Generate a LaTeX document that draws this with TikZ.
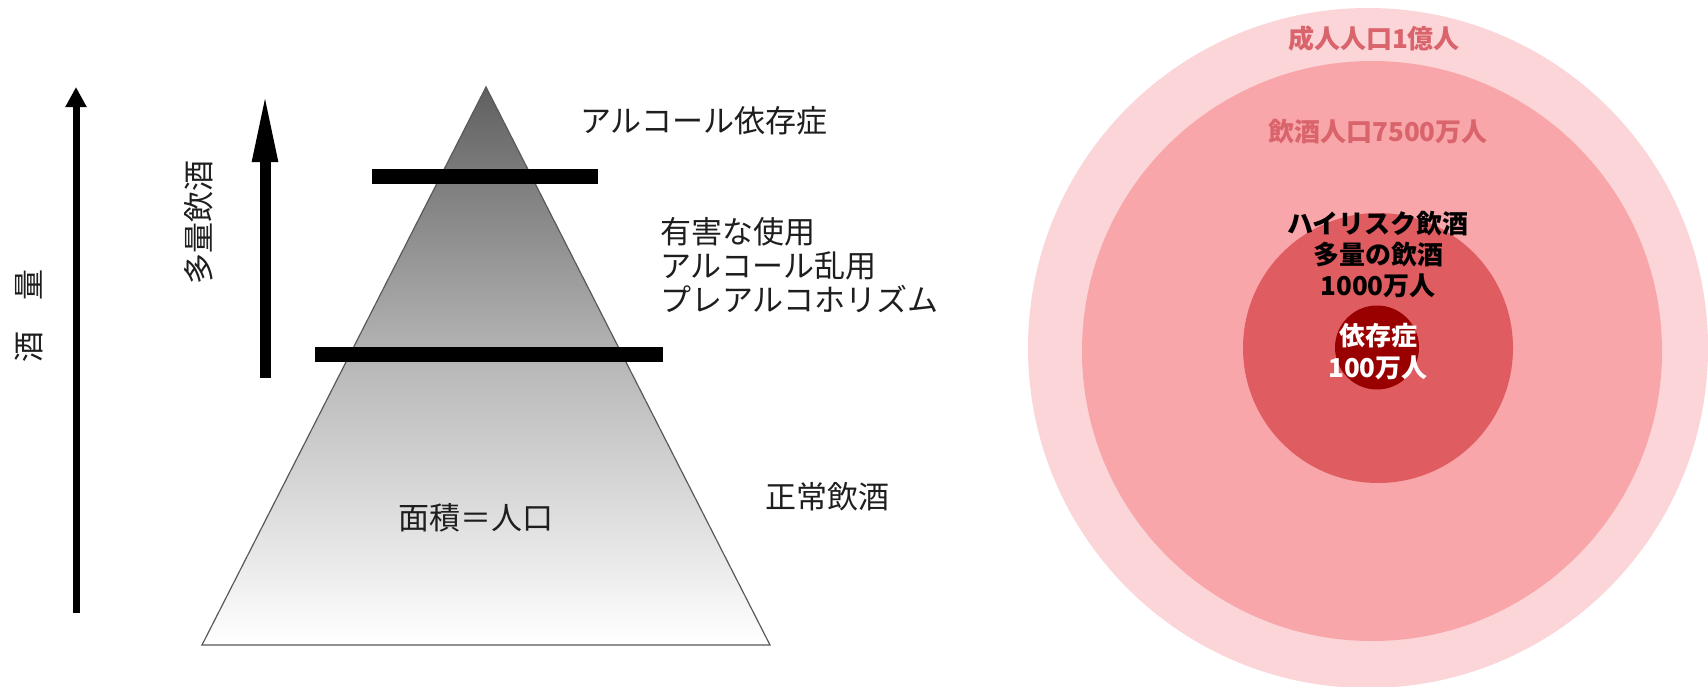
\documentclass[tikz,border=0pt]{standalone}
\usepackage{fontspec}
\newfontfamily\jp{Noto Sans CJK JP}
\usetikzlibrary{arrows.meta}
\definecolor{ringA}{HTML}{FBD5D7}
\definecolor{ringB}{HTML}{F8A6A9}
\definecolor{ringC}{HTML}{DF5C61}
\definecolor{ringD}{HTML}{990000}
\definecolor{ringtext}{HTML}{D9646C}
\definecolor{tritop}{HTML}{606060}
\definecolor{trimid}{HTML}{B8B8B8}
\definecolor{textgray}{HTML}{1E1E1E}
\begin{document}
\begin{tikzpicture}[x=1pt,y=-1pt,
  lbl/.style={font=\jp\fontsize{31}{34}\selectfont, text=textgray, inner sep=0pt},
  ringlbl/.style={font=\jp\bfseries\fontsize{26}{31}\selectfont, inner sep=0pt, align=center},
  barline/.style={line width=15pt, black},
]
\useasboundingbox (0,0) rectangle (1708,686);
\fill[white] (0,0) rectangle (1708,686);

% ---------- left: pyramid ----------
\shade[top color=tritop, bottom color=white, middle color=trimid]
  (486,87) -- (770,645) -- (202,645) -- cycle;
\draw[line width=1.2pt, color=black!65] (486,87) -- (770,645) -- (202,645) -- cycle;

\coordinate (barAl) at (372,176);
\coordinate (barAr) at (598,176);
\coordinate (barBl) at (315,354.5);
\coordinate (barBr) at (663,354.5);
\draw[barline] (barAl) -- (barAr);
\draw[barline] (barBl) -- (barBr);

% arrows
\coordinate (bigS) at (76,613);
\coordinate (bigE) at (76,87);
\draw[line width=7pt, -{Triangle[width=20pt,length=20pt]}] (bigS) -- (bigE);
\coordinate (smS) at (265,378);
\coordinate (smE) at (265,91);
\draw[line width=11pt, -{Triangle[width=23pt,length=71pt]}] (smS) -- (smE);

% labels
\node[lbl, rotate=90] (ryo) at (29,316) {酒　量};
\node[lbl, rotate=90] (taryo) at (199,222) {多量飲酒};
\node[lbl, anchor=west] (izon) at (580,121) {アルコール依存症};
\node[lbl, anchor=west, align=left] (yugai) at (660,265) {有害な使用\\アルコール乱用\\プレアルコホリズム};
\node[lbl, anchor=west] (seijo) at (765,497) {正常飲酒};
\node[lbl] (menseki) at (476,518) {面積＝人口};

% ---------- right: circles ----------
\fill[ringA] (1368,348) circle[radius=340pt];
\fill[ringB] (1372,351) circle[radius=290pt];
\fill[ringC] (1378,348) circle[radius=135pt];
\fill[ringD] (1377,347.5) circle[radius=42pt];

\node[ringlbl, text=ringtext] (seijin) at (1374,39) {成人人口1億人};
\node[ringlbl, text=ringtext] (inshu) at (1378,132) {飲酒人口7500万人};
\node[ringlbl, text=black] (hirisk) at (1378,255) {ハイリスク飲酒\\多量の飲酒\\1000万人};
\node[ringlbl, text=white, font=\jp\bfseries\fontsize{26}{32}\selectfont] (izonc) at (1378,352) {依存症\\100万人};
\end{tikzpicture}
\end{document}
